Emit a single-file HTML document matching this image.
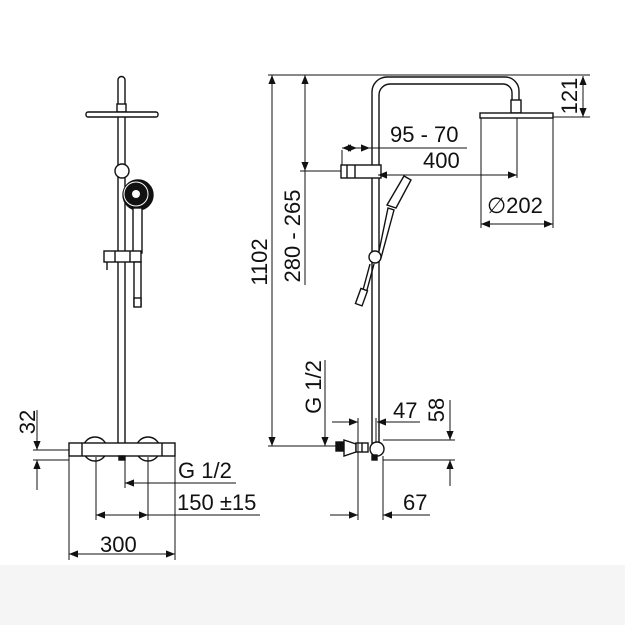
<!DOCTYPE html>
<html><head><style>
html,body{margin:0;padding:0;background:#fff;}
svg{display:block;}
text{font-family:"Liberation Sans",sans-serif;font-size:22px;fill:#111;}
</style></head><body>
<svg width="625" height="625" viewBox="0 0 625 625" xmlns="http://www.w3.org/2000/svg">
<defs>
<marker id="a" viewBox="0 0 10 10" refX="10" refY="5" markerWidth="14" markerHeight="9" markerUnits="userSpaceOnUse" orient="auto-start-reverse"><path d="M0,1 L10,5 L0,9 z" fill="#111"/></marker>
</defs>
<rect x="0" y="565" width="625" height="60" fill="#f5f5f5"/>
<g stroke="#111" fill="none" stroke-width="1.4">
<!-- LEFT VIEW -->
<path d="M118,108 V80 a3.5,3.5 0 0 1 7,0 V108" />
<rect x="117" y="104" width="9" height="8" fill="#fff"/>
<rect x="86" y="112" width="72" height="5" rx="2" fill="#fff"/>
<line x1="118" y1="117" x2="118" y2="444"/>
<line x1="125" y1="117" x2="125" y2="444"/>
<circle cx="122" cy="171" r="7" fill="#fff"/>
<circle cx="138" cy="195" r="15" fill="#111"/>
<circle cx="136" cy="194" r="12" fill="none" stroke="#fff" stroke-width="1"/>
<circle cx="136" cy="194" r="4" fill="#fff" stroke="none"/>
<rect x="133" y="208" width="9" height="45" fill="#fff"/>
<rect x="104" y="251" width="37" height="11" fill="#fff"/>
<line x1="115" y1="251" x2="115" y2="262"/><line x1="130" y1="251" x2="130" y2="262"/>
<line x1="107" y1="262" x2="107" y2="270"/>
<rect x="134" y="262" width="7" height="44" fill="#fff"/>
<rect x="134" y="298" width="7" height="9" fill="#fff"/>
<!-- mixer -->
<circle cx="95" cy="449" r="12" fill="#fff"/>
<circle cx="148" cy="449" r="12" fill="#fff"/>
<rect x="69" y="443" width="106" height="13" fill="#fff"/>
<line x1="82" y1="443" x2="82" y2="456"/><line x1="162" y1="443" x2="162" y2="456"/>
<rect x="119" y="456" width="6" height="4" fill="#111"/>
<!-- dims left -->
<line x1="33" y1="450" x2="69" y2="450" stroke-width="1"/>
<line x1="33" y1="460" x2="69" y2="460" stroke-width="1"/>
<line x1="37" y1="410" x2="37" y2="450" stroke-width="1" marker-end="url(#a)"/>
<line x1="37" y1="490" x2="37" y2="460" stroke-width="1" marker-end="url(#a)"/>
<line x1="125" y1="460" x2="125" y2="488" stroke-width="1"/>
<line x1="236" y1="483" x2="125" y2="483" stroke-width="1" marker-end="url(#a)"/>
<line x1="96" y1="457" x2="96" y2="520" stroke-width="1"/>
<line x1="148" y1="457" x2="148" y2="520" stroke-width="1"/>
<line x1="96" y1="515" x2="148" y2="515" stroke-width="1" marker-start="url(#a)" marker-end="url(#a)"/>
<line x1="148" y1="515" x2="260" y2="515" stroke-width="1"/>
<line x1="69" y1="456" x2="69" y2="560" stroke-width="1"/>
<line x1="175" y1="456" x2="175" y2="560" stroke-width="1"/>
<line x1="69" y1="554" x2="175" y2="554" stroke-width="1" marker-start="url(#a)" marker-end="url(#a)"/>

<!-- RIGHT VIEW -->
<path d="M372,445 V92 a15,15 0 0 1 15,-15 H505 a14,14 0 0 1 14,14 V101"/>
<path d="M379,445 V95 a11,11 0 0 1 11,-11 H503 a9,9 0 0 1 9,9 V101"/>
<rect x="511" y="100" width="10" height="13" fill="#fff"/>
<rect x="480" y="113" width="73" height="5" fill="#fff"/>
<rect x="341" y="165" width="40" height="13" fill="#fff"/>
<line x1="347" y1="165" x2="347" y2="178"/><line x1="355" y1="165" x2="355" y2="178"/>
<path d="M378,256 L388,208 L394,210 L381,258" fill="#fff"/>
<path d="M387,205 L404,176 L411,180 L396,208 z" fill="#fff"/>
<circle cx="375" cy="257" r="6" fill="#fff"/>
<path d="M370,264 L363,290 M374,264 L367,290"/>
<rect x="358" y="289" width="7" height="16" transform="rotate(20 361 297)" fill="#fff"/>
<!-- valve -->
<rect x="336" y="442" width="8" height="9" fill="#111"/>
<path d="M344,440 L356,444 L356,452 L344,456 z" fill="#fff"/>
<rect x="356" y="443" width="12" height="9" fill="#fff"/>
<line x1="362" y1="443" x2="362" y2="452"/>
<circle cx="377" cy="449" r="7" fill="#fff"/>
<rect x="372" y="455" width="5" height="5" fill="#111"/>
<!-- dims right -->
<line x1="268" y1="75" x2="590" y2="75" stroke-width="1"/>
<line x1="272" y1="260" x2="272" y2="75" stroke-width="1" marker-end="url(#a)"/>
<line x1="272" y1="260" x2="272" y2="446" stroke-width="1" marker-end="url(#a)"/>
<line x1="268" y1="446" x2="337" y2="446" stroke-width="1"/>
<line x1="305" y1="130" x2="305" y2="75" stroke-width="1" marker-end="url(#a)"/>
<line x1="305" y1="130" x2="305" y2="171" stroke-width="1" marker-end="url(#a)"/>
<line x1="305" y1="171" x2="305" y2="285" stroke-width="1"/>
<line x1="300" y1="171" x2="341" y2="171" stroke-width="1"/>
<line x1="553" y1="117" x2="590" y2="117" stroke-width="1"/>
<line x1="583" y1="96" x2="583" y2="76" stroke-width="1" marker-end="url(#a)"/>
<line x1="583" y1="96" x2="583" y2="117" stroke-width="1" marker-end="url(#a)"/>
<line x1="481" y1="118" x2="481" y2="228" stroke-width="1"/>
<line x1="553" y1="118" x2="553" y2="228" stroke-width="1"/>
<line x1="517" y1="118" x2="517" y2="178" stroke-width="1"/>
<line x1="481" y1="224" x2="553" y2="224" stroke-width="1" marker-start="url(#a)" marker-end="url(#a)"/>
<line x1="378" y1="175" x2="517" y2="175" stroke-width="1" marker-start="url(#a)" marker-end="url(#a)"/>
<line x1="342" y1="150" x2="342" y2="165" stroke-width="1"/>
<line x1="342" y1="148" x2="357" y2="148" stroke-width="1" marker-start="url(#a)" marker-end="url(#a)"/>
<line x1="357" y1="148" x2="370" y2="148" stroke-width="1" marker-end="url(#a)"/>
<line x1="370" y1="148" x2="467" y2="148" stroke-width="1"/>
<line x1="325" y1="360" x2="325" y2="446" stroke-width="1" marker-end="url(#a)"/>
<line x1="332" y1="422" x2="358" y2="422" stroke-width="1" marker-end="url(#a)"/>
<line x1="420" y1="422" x2="377" y2="422" stroke-width="1" marker-end="url(#a)"/>
<line x1="358" y1="418" x2="358" y2="520" stroke-width="1"/>
<line x1="376" y1="418" x2="376" y2="442" stroke-width="1"/>
<line x1="383" y1="440" x2="455" y2="440" stroke-width="1"/>
<line x1="383" y1="460" x2="455" y2="460" stroke-width="1"/>
<line x1="450" y1="400" x2="450" y2="440" stroke-width="1" marker-end="url(#a)"/>
<line x1="450" y1="486" x2="450" y2="460" stroke-width="1" marker-end="url(#a)"/>
<line x1="383" y1="456" x2="383" y2="520" stroke-width="1"/>
<line x1="330" y1="515" x2="358" y2="515" stroke-width="1" marker-end="url(#a)"/>
<line x1="430" y1="515" x2="383" y2="515" stroke-width="1" marker-end="url(#a)"/>
</g>
<text transform="translate(35,422) rotate(-90)" text-anchor="middle">32</text>
<text x="178" y="478">G 1/2</text>
<text x="177" y="510">150 ±15</text>
<text x="100" y="552">300</text>
<text transform="translate(267,262) rotate(-90)" text-anchor="middle">1102</text>
<text transform="translate(300,236) rotate(-90)" text-anchor="middle">280 - 265</text>
<text transform="translate(577,96) rotate(-90)" text-anchor="middle">121</text>
<text x="390" y="142">95 - 70</text>
<text x="423" y="168">400</text>
<text x="487" y="213">∅202</text>
<text transform="translate(321,387) rotate(-90)" text-anchor="middle">G 1/2</text>
<text x="393" y="418">47</text>
<text transform="translate(444,410) rotate(-90)" text-anchor="middle">58</text>
<text x="403" y="510">67</text>
</svg>
</body></html>
